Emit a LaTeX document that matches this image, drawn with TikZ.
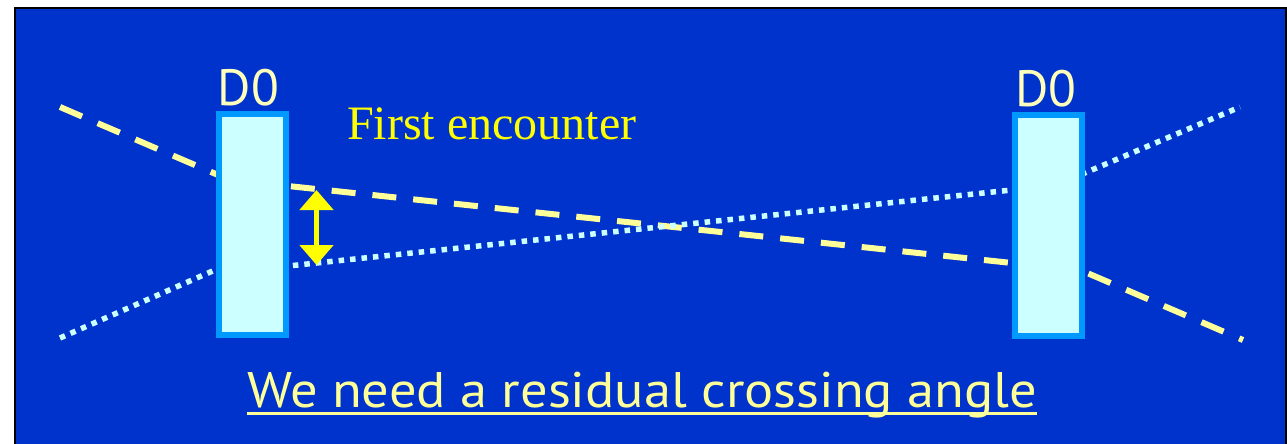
\documentclass[tikz,border=0pt]{standalone}
\usepackage{fontspec}
\setmainfont{Liberation Serif}
\newfontfamily\labelfont{PT Sans}
\usetikzlibrary{arrows.meta}

\definecolor{slidebg}{HTML}{0033CC}
\definecolor{detedge}{HTML}{0099FF}
\definecolor{detfill}{HTML}{CCFFFF}
\definecolor{beamyellow}{HTML}{FFFF99}
\definecolor{labelyellow}{HTML}{FFFFBB}
\definecolor{arrowyellow}{HTML}{FFFF00}

\newsavebox\captionbox

\tikzset{
  detector/.style={draw=detedge, fill=detfill, line width=6pt,
    minimum width=66.5pt, minimum height=221pt, inner sep=0pt},
  detlabel/.style={text=labelyellow, anchor=base, inner sep=0pt,
    font=\labelfont\fontsize{51}{60}\selectfont},
  beamA/.style={draw=beamyellow, line width=6pt, dash pattern=on 24pt off 17pt},
  beamB/.style={draw=detfill, line width=5.5pt, dash pattern=on 5.5pt off 6pt},
  gaparrow/.style={draw=arrowyellow, line width=5pt,
    {Triangle[width=33pt,length=20pt]}-{Triangle[width=33pt,length=20pt]}}
}

\begin{document}
\sbox\captionbox{\color{beamyellow}\labelfont\fontsize{50}{60}\selectfont We need a residual crossing angle}
\begin{tikzpicture}[x=1pt,y=-1pt]
\useasboundingbox (0,0) rectangle (1287,444);
\clip (0,0) rectangle (1287,444);

% slide background with frame
\fill[slidebg] (15,8) rectangle (1286,450);
\draw[black, line width=2pt] (15,450) -- (15,8) -- (1286,8) -- (1286,450);

% yellow (dashed) beam, deflected at each D0
\coordinate (ya1) at (60,107);
\coordinate (ya2) at (240,184.4);
\coordinate (yb1) at (270,184.1);
\coordinate (yb2) at (1030,264.9);
\coordinate (yc1) at (1060,261.3);
\coordinate (yc2) at (1243,340);
\draw[beamA] (ya1) -- (ya2);
\draw[beamA, dash phase=20pt] (yb1) -- (yb2);
\draw[beamA, dash phase=10pt] (yc1) -- (yc2);

% light blue (dotted) beam
\coordinate (ba1) at (60,338);
\coordinate (ba2) at (240,259);
\coordinate (bb1) at (270,267.9);
\coordinate (bb2) at (1030,188.1);
\coordinate (bc1) at (1060,183.5);
\coordinate (bc2) at (1240,107);
\draw[beamB] (ba1) -- (ba2);
\draw[beamB] (bb1) -- (bb2);
\draw[beamB] (bc1) -- (bc2);

% detectors
\node[detector] (d0l) at (252.25,224.5) {};
\node[detector] (d0r) at (1048.25,225) {};
\node[detlabel] (d0ltext) at (248.5,105) {D0};
\node[detlabel] (d0rtext) at (1046,106) {D0};

% separation at first encounter
\coordinate (sepTop) at (316.5,190);
\coordinate (sepBot) at (316.5,265);
\draw[gaparrow] (sepTop) -- (sepBot);

\node[anchor=base west, inner sep=0pt, text=arrowyellow,
      font=\fontsize{48}{58}\selectfont] (first) at (347,139) {First encounter};

% caption
\node[anchor=base west, inner sep=0pt, text=beamyellow] (caption) at (247,407)
  {\resizebox{790pt}{\height}{\usebox\captionbox}};
\draw[beamyellow, line width=3pt]
  ([yshift=-6pt]caption.base west) -- ([yshift=-6pt]caption.base east);
\end{tikzpicture}
\end{document}
